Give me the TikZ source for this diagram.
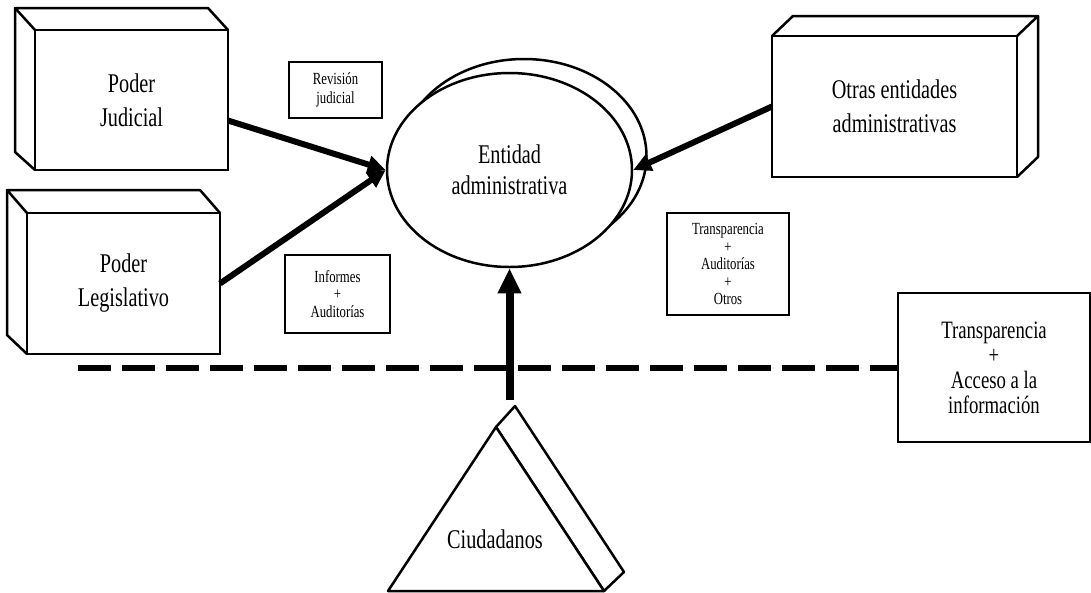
\documentclass[tikz,border=0pt]{standalone}
\usepackage{fontspec}
\setmainfont{Liberation Serif}[FakeStretch=0.75]
\usetikzlibrary{shapes.geometric, arrows.meta, positioning}
\tikzstyle{caja3d} = [
    rectangle,
    inner sep=0pt,
    outer sep=0pt,
    line width=2.5pt,
    align=center,
    font=\fontsize{27}{34}\selectfont,
    draw=black
]
\tikzstyle{etiqueta} = [
    rectangle,
    inner sep=0pt,
    line width=2pt,
    align=center,
    font=\fontsize{17}{17.5}\selectfont,
    draw=black
]
\tikzstyle{borde} = [line width=2.5pt, line join=round]
\tikzstyle{flecha} = [line width=6pt, -{Triangle[length=18pt,width=17pt]}]
\tikzstyle{flechagrande} = [line width=8pt, -{Triangle[length=25pt,width=22pt]}]
\tikzstyle{frontera} = [line width=6pt, dash pattern=on 33pt off 11pt]

\begin{document}
\begin{tikzpicture}[x=1pt, y=-1pt]

\fill[white] (0,0) rectangle (1091,592);
\useasboundingbox (0,0) rectangle (1091,592);

% cajas de los poderes
\node (judicial) [caja3d, minimum width=193pt, minimum height=140pt]
at (131.5,100) {Poder\\Judicial};
\draw[borde] (judicial.north west) -- ++(-20,-22) -- ++(193,0) -- (judicial.north east);
\draw[borde] ([shift={(-20,-22)}]judicial.north west) -- ++(0,144) -- (judicial.south west);

\node (legislativo) [caja3d, minimum width=193pt, minimum height=141pt]
at (123.5,283.5) {Poder\\Legislativo};
\draw[borde] (legislativo.north west) -- ++(-20,-23) -- ++(193,0) -- (legislativo.north east);
\draw[borde] ([shift={(-20,-23)}]legislativo.north west) -- ++(0,145) -- (legislativo.south west);

\node (otras) [caja3d, minimum width=245pt, minimum height=141pt]
at (894.5,106.5) {Otras entidades\\administrativas};
\draw[borde] (otras.north west) -- ++(21,-20) -- ++(245,0) -- (otras.north east);
\draw[borde] ([shift={(21,-20)}]otras.north east) -- ++(0,141) -- (otras.south east);

% entidad
\node (fondo) [ellipse, borde, draw=black, fill=white,
    minimum width=245pt, minimum height=194pt] at (524,156) {};
\node (entidad) [ellipse, borde, draw=black, fill=white, inner sep=0pt,
    minimum width=245pt, minimum height=194pt, align=center,
    font=\fontsize{27}{31}\selectfont] at (509.5,170) {Entidad\\administrativa};

% etiquetas
\node (revision) [etiqueta, minimum width=93pt, minimum height=56pt,
    font=\fontsize{17}{19}\selectfont] at (335.5,90) {Revisión\\judicial};
\node (informes) [etiqueta, minimum width=105pt, minimum height=78pt]
at (337.5,294) {Informes\\+\\Auditorías};
\node (control) [etiqueta, minimum width=122pt, minimum height=102pt]
at (728,264) {Transparencia\\+\\Auditorías\\+\\Otros};
\node (acceso) [caja3d, minimum width=192pt, minimum height=149pt,
    font=\fontsize{25}{25}\selectfont] at (994,367.5)
{Transparencia\\+\\Acceso a la\\información};

% ciudadanos
\draw[borde, fill=white] (496,427) -- (515,406) -- (624,572) -- (604,591) -- cycle;
\draw[borde, fill=white] (388,591) -- (496,427) -- (604,591) -- cycle;
\node (ciudadanos) [font=\fontsize{27}{30}\selectfont] at (495,539) {Ciudadanos};
\coordinate (cima) at (509.5,400);
\coordinate (inicio) at (78,367.5);

\draw [frontera] (inicio) -- (acceso.west);
\draw [flecha] (judicial.-12) -- (entidad.west);
\draw [flecha] (legislativo.east) -- (entidad.west);
\draw [flecha] (otras.west) -- (entidad.east);
\draw [flechagrande] (cima) -- (entidad.south);

\end{tikzpicture}
\end{document}
